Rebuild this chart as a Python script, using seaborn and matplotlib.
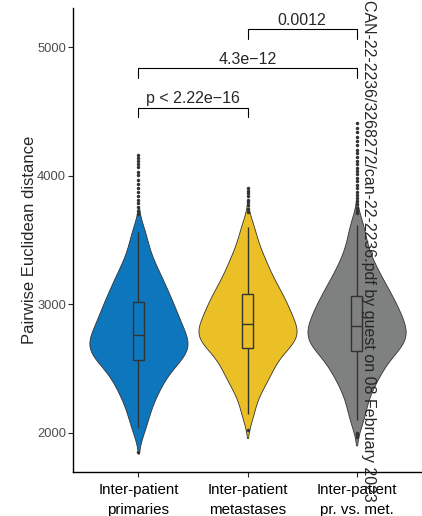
import matplotlib.pyplot as plt
import numpy as np
import pandas as pd
import seaborn as sns

groups = ["Inter-patient\nprimaries", "Inter-patient\nmetastases", "Inter-patient\npr. vs. met."]
colors = ["#0E76BC", "#EBC026", "#7F8080"]

# pairwise distances (whisker to whisker)
primaries = [2040, 2155, 2238, 2300, 2351, 2396, 2435, 2472, 2505, 2537,
             2567, 2587, 2606, 2625, 2644, 2663, 2682, 2702, 2721, 2741,
             2761, 2784, 2807, 2831, 2855, 2880, 2906, 2932, 2959, 2987,
             3016, 3047, 3080, 3115, 3152, 3192, 3237, 3288, 3350, 3440, 3560]
metastases = [2150, 2283, 2356, 2409, 2454, 2493, 2529, 2563, 2597, 2630,
              2663, 2681, 2699, 2717, 2735, 2753, 2771, 2789, 2807, 2825,
              2844, 2866, 2888, 2910, 2932, 2955, 2978, 3002, 3027, 3052,
              3078, 3107, 3138, 3171, 3208, 3249, 3293, 3343, 3403, 3480, 3600]
pr_vs_met = [2100, 2218, 2308, 2373, 2424, 2468, 2506, 2541, 2574, 2606,
             2640, 2659, 2678, 2697, 2716, 2735, 2754, 2773, 2792, 2811,
             2831, 2852, 2873, 2895, 2917, 2940, 2963, 2987, 3012, 3038,
             3065, 3094, 3125, 3158, 3195, 3235, 3281, 3336, 3404, 3498, 3620]

# outlier dots beyond the whiskers
primaries_out = [1854, 3702, 3725, 3758, 3784, 3811, 3846, 3870, 3905, 3932, 3968,
                 4004, 4027, 4065, 4093, 4118, 4140, 4161]
metastases_out = [2021, 3720, 3745, 3770, 3792, 3815, 3840, 3866, 3885, 3902]
pr_vs_met_out = [1970, 1984, 1993, 2001, 3708, 3728, 3751, 3779, 3800, 3826, 3853, 3877,
                 3902, 3931, 3957, 3984, 4010, 4038, 4063, 4091, 4117, 4146,
                 4174, 4203, 4236, 4268, 4301, 4337, 4372, 4408]

comparisons = [(0, 1, "p < 2.22e\u221216"), (0, 2, "4.3e\u221212"), (1, 2, "0.0012")]
bracket_y = [4528, 4834, 5137]

watermark = "CAN-22-2236/3268272/can-22-2236.pdf by guest on 08 February 2023"

sns.set_style("ticks")
plt.rcParams['font.family'] = ['Liberation Sans', 'DejaVu Sans']

df = pd.DataFrame({
    "group": np.repeat(groups, [len(primaries), len(metastases), len(pr_vs_met)]),
    "distance": primaries + metastases + pr_vs_met,
})
df_out = pd.DataFrame({
    "group": np.repeat(groups, [len(primaries_out), len(metastases_out), len(pr_vs_met_out)]),
    "distance": primaries_out + metastases_out + pr_vs_met_out,
})

fig, ax = plt.subplots(figsize=(4.22, 5.16), dpi=100)
fig.subplots_adjust(left=0.173, right=1.0, bottom=0.0847, top=0.984)

sns.violinplot(data=df, x="group", y="distance", hue="group", order=groups, hue_order=groups,
               palette=colors, saturation=1, density_norm="area", width=0.9, cut=2,
               bw_adjust=0.6, inner=None, linewidth=0.6, linecolor="#333333",
               legend=False, ax=ax)
sns.boxplot(data=df, x="group", y="distance", hue="group", order=groups, hue_order=groups,
            palette=colors, saturation=1, width=0.1, linewidth=1, linecolor="#333333",
            showcaps=False,
            flierprops=dict(marker="o", markerfacecolor="#333333", markeredgecolor="#333333",
                            markersize=2.5),
            legend=False, ax=ax)
sns.stripplot(data=df_out, x="group", y="distance", order=groups, jitter=False,
              color="#333333", size=2.5, ax=ax)

for (a, b, label), y in zip(comparisons, bracket_y):
    ax.plot([a, a, b, b], [y - 75, y, y, y - 75], color="black", lw=0.8, clip_on=False)
    ax.text((a + b) / 2, y + 37, label, ha="center", va="baseline", fontsize=11.5)

ax.set_xlim(-0.6, 2.6)
ax.set_ylim(1694, 5302)
ax.set_yticks([2000, 3000, 4000, 5000])
ax.set_xlabel("")
ax.set_ylabel("Pairwise Euclidean distance", fontsize=12, labelpad=0)
ax.tick_params(axis="y", labelsize=9.3, labelcolor="#4D4D4D", length=3.5, pad=1.5)
ax.tick_params(axis="x", labelsize=10.9, labelcolor="black", length=3.5, pad=4.5)
for lbl in ax.get_xticklabels():
    lbl.set_linespacing(1.5)
for s in ["top", "right"]:
    ax.spines[s].set_visible(False)
for s in ["left", "bottom"]:
    ax.spines[s].set_color("black")
    ax.spines[s].set_linewidth(1)

fig.text(368 / 422, 1.0, watermark, rotation=270, ha="center", va="top", fontsize=11.5)

plt.savefig("out.png", dpi=100)
